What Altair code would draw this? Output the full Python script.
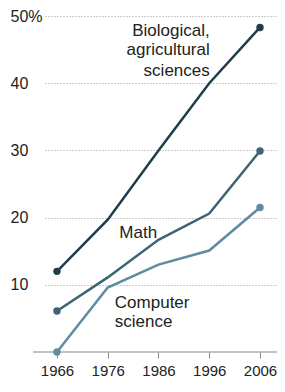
import altair as alt
import pandas as pd

years = [1966, 1976, 1986, 1996, 2006]
bio = [12.0, 19.7, 30.0, 40.0, 48.3]
math = [6.1, 11.1, 16.7, 20.6, 29.9]
cs = [0.0, 9.6, 13.0, 15.1, 21.5]
series_names = ["Biological, agricultural sciences", "Math", "Computer science"]
series_colors = ["#1f3d4a", "#3d6475", "#5e8ca1"]
y_ticks = [10, 20, 30, 40, 50]

label_lines = ["Biological,", "agricultural", "sciences", "Math", "Computer", "science"]
label_years = [1996.1, 1996.1, 1996.1, 1982.0, 1977.4, 1977.4]
label_values = [47.8, 44.9, 41.8, 17.7, 7.3, 4.4]
label_align = ["right", "right", "right", "center", "left", "left"]

rows = []
for name, vals in zip(series_names, [bio, math, cs]):
    for yr, v in zip(years, vals):
        rows.append({"year": yr, "value": v, "series": name})
df = pd.DataFrame(rows)
ends = df[df["year"].isin([years[0], years[-1]])]

lab = pd.DataFrame({"text": label_lines, "year": label_years,
                    "value": label_values, "align": label_align})

W, H = 232, 336
xs = alt.Scale(domain=[1963.64, 2009.35], nice=False, zero=False)
ys = alt.Scale(domain=[0, 50], nice=False)
cs_scale = alt.Scale(domain=series_names, range=series_colors)
FONT = "Liberation Sans"

lines = alt.Chart(df).mark_line(strokeWidth=2.5).encode(
    x=alt.X("year:Q", scale=xs, axis=alt.Axis(
        values=years, format="d", title=None, domain=False, grid=False,
        tickSize=6, tickColor="#888888", tickWidth=1,
        labelFontSize=15, labelPadding=5, labelColor="#222222",
        labelFont=FONT)),
    y=alt.Y("value:Q", scale=ys, axis=alt.Axis(
        values=y_ticks, title=None, domain=False, ticks=False,
        grid=True, gridDash=[1, 2], gridColor="#999999", gridWidth=1,
        labelAlign="left", labelPadding=35, labelFontSize=16,
        labelColor="#222222", labelFont=FONT,
        labelExpr="datum.value == 50 ? '50%' : datum.label")),
    color=alt.Color("series:N", scale=cs_scale, legend=None),
    detail="series:N",
)

points = alt.Chart(ends).mark_circle(size=55, opacity=1).encode(
    x=alt.X("year:Q", scale=xs),
    y=alt.Y("value:Q", scale=ys),
    color=alt.Color("series:N", scale=cs_scale, legend=None),
)

baseline = alt.Chart(pd.DataFrame({"v": [0]})).mark_rule(
    color="#888888", strokeWidth=1.2).encode(
    x=alt.value(-12), x2=alt.value(W), y=alt.Y("v:Q", scale=ys))

def text_layer(al):
    return alt.Chart(lab[lab["align"] == al]).mark_text(
        align=al, baseline="middle", fontSize=17, font=FONT,
        color="#222222").encode(
        x=alt.X("year:Q", scale=xs), y=alt.Y("value:Q", scale=ys),
        text="text:N")

chart = alt.layer(lines, baseline, points, text_layer("right"),
                  text_layer("center"), text_layer("left")).properties(
    width=W, height=H,
    autosize=alt.AutoSizeParams(type="none"),
    padding={"left": 37, "top": 8, "right": 0, "bottom": 28},
    background="white",
).configure_view(stroke=None)

chart.save("out.html", embed_options={"renderer": "svg", "actions": False})
